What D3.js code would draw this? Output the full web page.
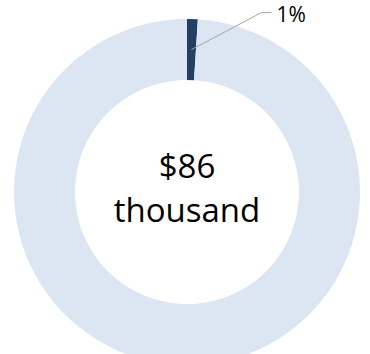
<!DOCTYPE html>
<html>
<head>
<meta charset="utf-8">
<script src="https://cdn.jsdelivr.net/npm/d3@7"></script>
<style>
  html, body { margin: 0; padding: 0; background: #fff; }
  svg { display: block; }
  text { font-family: "Open Sans", "Noto Sans", sans-serif; fill: #000; }
</style>
</head>
<body>
<svg id="chart" width="370" height="354"></svg>
<script>
// Share of the total (percent)
const categories = ["Portion", "Remainder"];
const values = [1, 99];
const colors = ["#243f64", "#dce6f2"];
const centerLines = ["$86", "thousand"];
const sliceLabel = "1%";

const W = 370, H = 354;
const cx = 187, cy = 192;
const outerR = 173, innerR = 112;

const svg = d3.select("#chart");
const g = svg.append("g").attr("transform", `translate(${cx},${cy})`);

const data = categories.map((c, i) => ({ name: c, value: values[i], color: colors[i] }));

const pie = d3.pie().value(d => d.value).sort(null);
const arc = d3.arc().innerRadius(innerR).outerRadius(outerR);
const arcs = pie(data);

g.selectAll("path.slice")
  .data(arcs)
  .join("path")
  .attr("class", "slice")
  .attr("d", arc)
  .attr("fill", d => d.data.color);

// Leader line from the small slice to its percent label
const small = arcs[0];
const [px, py] = arc.centroid(small);
const elbow = [px + 70, py - 37];
const end = [elbow[0] + 10, elbow[1]];
g.append("polyline")
  .attr("points", [[px, py], elbow, end].map(p => p.join(",")).join(" "))
  .attr("fill", "none")
  .attr("stroke", "#a6a6a6")
  .attr("stroke-width", 1);

g.append("text")
  .attr("x", end[0] + 5)
  .attr("y", end[1] + 9)
  .attr("font-size", 21)
  .text(sliceLabel);

// Center total
g.selectAll("text.center")
  .data(centerLines)
  .join("text")
  .attr("class", "center")
  .attr("text-anchor", "middle")
  .attr("x", 0)
  .attr("y", (d, i) => -14 + i * 44)
  .attr("font-size", 33)
  .text(d => d);
</script>
</body>
</html>
